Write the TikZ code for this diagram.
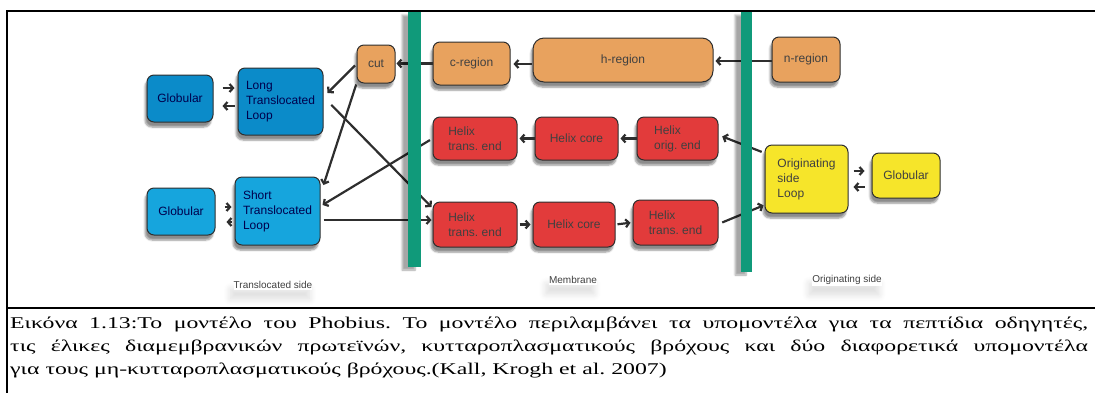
\documentclass[tikz,border=0pt]{standalone}
\usepackage{fontspec}
\setmainfont{Liberation Serif}
\newfontfamily\diagfont{Liberation Sans}
\newfontfamily\capfont[FakeStretch=1.45]{Liberation Serif}
\usetikzlibrary{arrows.meta,shadows.blur,calc}
\frenchspacing

\definecolor{tlblue}{HTML}{0B8BC9}
\definecolor{stlblue}{HTML}{16A5DD}
\definecolor{sigorange}{HTML}{E8A25E}
\definecolor{helixred}{HTML}{E23B3B}
\definecolor{origyellow}{HTML}{F6E52A}
\definecolor{membgreen}{HTML}{109A7A}
\definecolor{edgegray}{HTML}{2E2E2E}

\begin{document}
\begin{tikzpicture}[x=1pt,y=-1pt,
  unit/.style={draw=edgegray, line width=1pt, rounded corners=7pt, inner sep=0pt,
    align=left, font=\diagfont\fontsize{12}{15}\selectfont,
    blur shadow={shadow xshift=-2pt, shadow yshift=-5pt, shadow blur steps=6, shadow opacity=45}},
  bluebox/.style={unit, fill=tlblue, text=blue!30!black},
  lightbluebox/.style={unit, fill=stlblue, text=blue!30!black},
  orangebox/.style={unit, fill=sigorange, text=black!75},
  redbox/.style={unit, fill=helixred, text=black!75},
  yellowbox/.style={unit, fill=origyellow, text=black!75},
  arr/.style={draw=edgegray, line width=2.2pt, -{Straight Barb[length=3.5pt,width=8pt]}},
  sidelabel/.style={font=\diagfont\fontsize{10}{12}\selectfont, text=black!75,
    fill=white, inner xsep=0pt, inner ysep=1pt,
    blur shadow={shadow xshift=-3pt, shadow yshift=-9pt, shadow blur steps=10,
      shadow blur radius=7pt, shadow opacity=14}},
  membrane/.style={fill=membgreen, draw=none,
    blur shadow={shadow xshift=-6pt, shadow yshift=-3pt, shadow blur steps=6, shadow opacity=35}}
]
\useasboundingbox (0,0) rectangle (1095,392);

% translocated side
\node[bluebox, minimum width=66pt, minimum height=47pt] (glo1) at (180,98.5) {Globular};
\node[bluebox, minimum width=85pt, minimum height=67pt] (ltl) at (280.5,101.5) {Long\\Translocated\\Loop};
\node[lightbluebox, minimum width=68pt, minimum height=47pt] (glo2) at (181,211.5) {Globular};
\node[lightbluebox, minimum width=85pt, minimum height=68pt] (stl) at (277.5,211) {Short\\Translocated\\Loop};
\node[orangebox, minimum width=38pt, minimum height=38pt] (cut) at (376,64) {cut};

% signal peptide row
\node[orangebox, minimum width=77pt, minimum height=43pt] (creg) at (471.5,63.5) {c-region};
\node[orangebox, rounded corners=11pt, minimum width=180pt, minimum height=44pt] (hreg) at (623,60) {h-region};
\node[orangebox, minimum width=68pt, minimum height=45pt] (nreg) at (806,59.5) {n-region};

% helix rows
\node[redbox, minimum width=84pt, minimum height=43pt] (hte1) at (475,138.5) {Helix\\trans. end};
\node[redbox, minimum width=83pt, minimum height=43pt] (hc1) at (576.5,138.5) {Helix core};
\node[redbox, minimum width=81pt, minimum height=43pt] (hoe) at (677.5,138.5) {Helix\\orig. end};
\node[redbox, minimum width=84pt, minimum height=45pt] (hte2) at (475,224.5) {Helix\\trans. end};
\node[redbox, minimum width=82pt, minimum height=45pt] (hc2) at (574,224.5) {Helix core};
\node[redbox, minimum width=85pt, minimum height=45pt] (hte3) at (675.5,222.5) {Helix\\trans. end};

% originating side
\node[yellowbox, minimum width=83pt, minimum height=68pt] (osl) at (806.5,179) {Originating\\side\\Loop};
\node[yellowbox, minimum width=68pt, minimum height=45pt] (glo3) at (906,175.5) {Globular};

% side labels
\node[sidelabel] (lab1) at (273,285) {Translocated side};
\node[sidelabel] (lab2) at (573,280) {Membrane};
\node[sidelabel] (lab3) at (847,280) {Originating side};

% transitions
\draw[arr, shorten <=9pt, shorten >=3pt] (glo1.east |- 0,88) -- (ltl.west |- 0,88);
\draw[arr, shorten <=3pt, shorten >=9pt] (ltl.west |- 0,106) -- (glo1.east |- 0,106);
\draw[arr, shorten <=9pt, shorten >=3pt] (glo2.east |- 0,207) -- (stl.west |- 0,207);
\draw[arr, shorten <=3pt, shorten >=11pt] (stl.west |- 0,222) -- (glo2.east |- 0,222);
\draw[arr, shorten <=5pt, shorten >=7pt] (osl.east |- 0,171) -- (glo3.west |- 0,171);
\draw[arr, shorten <=7pt, shorten >=5pt] (glo3.west |- 0,187) -- (osl.east |- 0,187);

\draw[arr, shorten <=2pt] (cut.west) -- ($(ltl.east |- 0,93)+(4,0)$);
\draw[arr, shorten <=1pt] (cut.south west) -- ($(stl.east |- 0,185)+(3,0)$);
\draw[arr, shorten <=4pt] ($(ltl.east |- 0,102)+(5,0)$) -- ($(hte2.west |- 0,207)+(-1,0)$);
\draw[arr, shorten <=3pt] (hte1.west) -- ($(stl.east |- 0,205)+(2,0)$);
\draw[arr, shorten <=3pt, shorten >=1pt] (stl.east |- 0,220) -- (hte2.west |- 0,220);

\draw[arr, shorten >=1pt] (creg.west) -- (cut.east |- creg.west);
\draw[arr, shorten <=1pt, shorten >=3pt] (hreg.west |- 0,64) -- (creg.east |- 0,64);
\draw[arr, shorten >=2pt] (nreg.west |- 0,61) -- (hreg.east |- 0,61);

\draw[arr, shorten >=2pt] (hc1.west) -- (hte1.east);
\draw[arr, shorten >=2pt] (hoe.west) -- (hc1.east);
\draw[arr, shorten <=3pt, shorten >=4pt] (osl.west |- 0,153) -- (hoe.east |- 0,135);

\draw[arr, shorten <=2pt, shorten >=2pt] (hte2.east) -- (hc2.west);
\draw[arr, shorten <=2pt, shorten >=2pt] (hc2.east) -- (hte3.west);
\draw[arr, shorten <=4pt, shorten >=1pt] (hte3.east |- 0,224) -- (osl.west |- 0,205);

% membrane borders
\path[membrane] (408,12) rectangle (421,267);
\path[membrane] (741,12) rectangle (752,272);

% figure frame
\draw[line width=2pt] (1096,11) -- (7,11) -- (7,393);
\draw[line width=2pt] (7,308) -- (1096,308);

% caption
\node[anchor=north west, text width=1078pt, inner sep=0pt, align=justify,
      font=\capfont\fontsize{16.4}{23}\selectfont] (cap) at (10,317)
  {\hyphenpenalty=10000 Εικόνα 1.13:Το μοντέλο του Phobius. Το μοντέλο περιλαμβάνει τα υπομοντέλα για τα πεπτίδια οδηγητές,\linebreak
   τις έλικες διαμεμβρανικών πρωτεϊνών, κυτταροπλασματικούς βρόχους και δύο διαφορετικά υπομοντέλα\linebreak
   για τους μη-κυτταροπλασματικούς βρόχους.(Kall, Krogh et al. 2007)};
\end{tikzpicture}
\end{document}
